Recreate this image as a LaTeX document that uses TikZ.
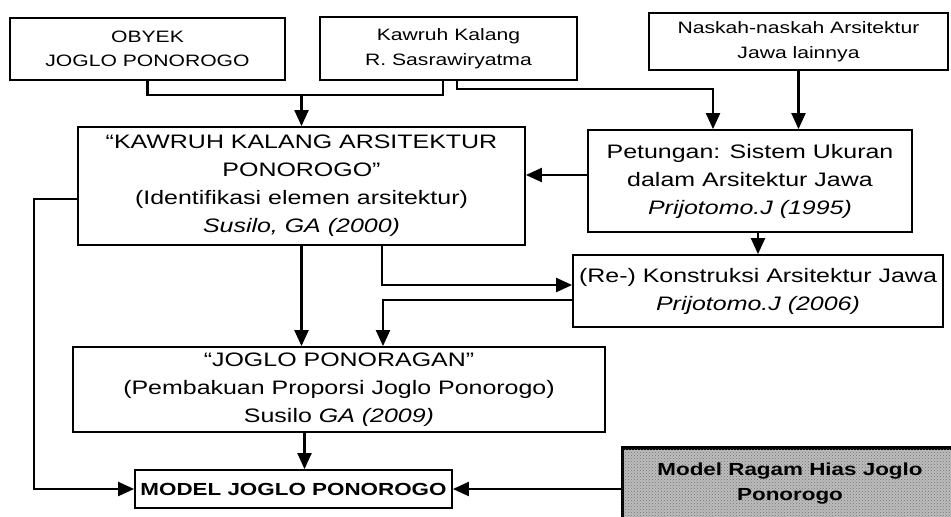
\documentclass[tikz,border=0pt]{standalone}
\usepackage{fontspec}
\setmainfont{Liberation Sans}[FakeStretch=1.28]
\usepackage{tikz}
\usetikzlibrary{arrows.meta,positioning,patterns}

\begin{document}
\begin{tikzpicture}[x=1pt, y=-1pt,
    box/.style={draw, line width=1.8pt, align=center, inner sep=0pt,
        font=\fontsize{19.5}{28}\selectfont},
    topbox/.style={box, font=\fontsize{16.5}{24.5}\selectfont},
    link/.style={line width=2.2pt},
    arr/.style={link, -{Triangle[width=14pt,length=16pt]}}]
    \fill[white] (0,0) rectangle (951,517);
    \useasboundingbox (0,0) rectangle (951,517);

    % sumber
    \node[topbox, minimum width=275, minimum height=62] (obyek) at (147.5,49)
        {OBYEK\\JOGLO PONOROGO};
    \node[topbox, minimum width=257, minimum height=63] (kawruh) at (448.5,48.5)
        {Kawruh Kalang\\R. Sasrawiryatma};
    \node[topbox, minimum width=299, minimum height=57] (naskah) at (798.5,41.5)
        {Naskah-naskah Arsitektur\\Jawa lainnya};

    \node[box, minimum width=447, minimum height=118] (kkap) at (301.5,186)
        {``KAWRUH KALANG ARSITEKTUR\\PONOROGO''\\(Identifikasi elemen arsitektur)\\\textit{Susilo, GA (2000)}};
    \node[box, minimum width=324, minimum height=102] (petungan) at (750,181)
        {Petungan: Sistem Ukuran\\dalam Arsitektur Jawa\\\textit{Prijotomo.J (1995)}};
    \node[box, minimum width=370, minimum height=72] (rekons) at (758,291)
        {(Re-) Konstruksi Arsitektur Jawa\\\textit{Prijotomo.J (2006)}};
    \node[box, minimum width=532, minimum height=85] (ponoragan) at (339,389.5)
        {``JOGLO PONORAGAN''\\(Pembakuan Proporsi Joglo Ponorogo)\\Susilo \textit{GA (2009)}};

    % hasil
    \node[box, minimum width=317, minimum height=38,
        font=\fontsize{17.5}{24}\selectfont\bfseries] (model) at (293.5,489)
        {MODEL JOGLO PONOROGO};
    \node[box, line width=3.4pt, minimum width=335, minimum height=72,
        fill=black!26, postaction={pattern=crosshatch dots, pattern color=black!55},
        font=\fontsize{17.5}{25}\selectfont\bfseries] (ragam) at (790,484)
        {Model Ragam Hias Joglo\\Ponorogo};

    \draw[link] (obyek.south) -- ++(0,14) coordinate (ob1) -| ([xshift=-5.5pt]kawruh.south);
    \draw[arr] (ob1 -| kkap.north) -- (kkap.north);
    \draw[arr] ([xshift=8.5pt]kawruh.south) -- ++(0,8) -| ([xshift=-37pt]petungan.north);
    \draw[arr] (naskah.south) -- (naskah.south |- petungan.north);
    \draw[arr] ([yshift=6pt]petungan.west) -- ([yshift=6pt]petungan.west -| kkap.east);
    \draw[arr] (rekons.north |- petungan.south) -- (rekons.north);
    \draw[arr] ([xshift=80.5pt]kkap.south) |- ([yshift=6pt]rekons.west);
    \draw[arr] ([yshift=-9pt]rekons.west) -| ([xshift=44pt]ponoragan.north);
    \draw[arr] (kkap.south) -- (kkap.south |- ponoragan.north);
    \draw[arr] ([yshift=-13pt]kkap.west) -- ++(-43,0) |- (model.west);
    \coordinate (m1) at ([xshift=11pt]model.north);
    \draw[arr] (m1 |- ponoragan.south) -- (m1);
    \draw[arr] (ragam.west |- model.east) -- (model.east);
\end{tikzpicture}
\end{document}
